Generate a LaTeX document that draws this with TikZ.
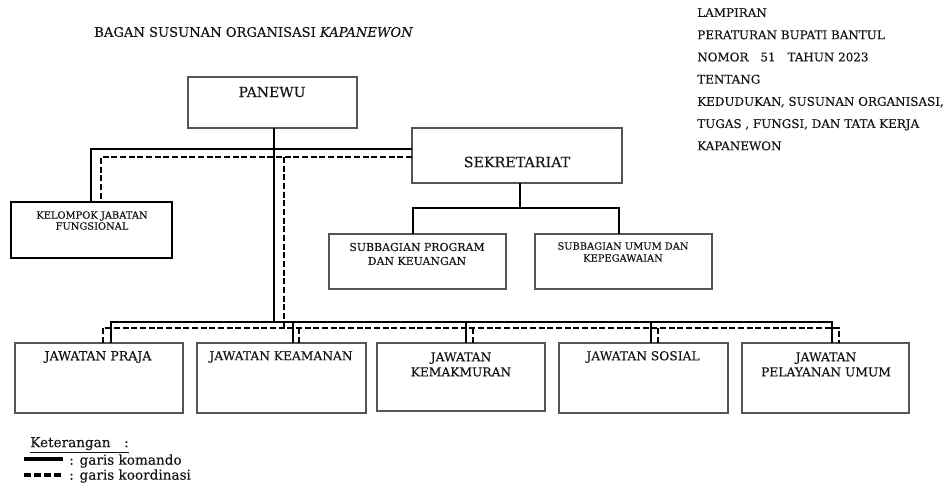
\documentclass[tikz,border=0pt]{standalone}
\usepackage{fontspec}
\setmainfont{DejaVu Serif}[FakeBold=0.3]
\definecolor{ink}{HTML}{151515}
\definecolor{boxline}{HTML}{555555}
\newcommand\mkbox[6][]{\node[box,#1,minimum width={(#4-#2)*0.75pt},minimum height={(#5-#3)*0.75pt}] (#6) at ({(#2+#4)/2},{(#3+#5)/2}) {};}
\tikzset{
  box/.style={draw=boxline,line width=0.8pt,inner sep=0pt,outer sep=0pt},
  thickbox/.style={draw=black,line width=1.4pt},
  cmd/.style={draw=black,line width=1.5pt},
  crd/.style={draw=black,line width=1.4pt,dash pattern=on 4.5pt off 2pt},
  lbl/.style={text=ink,inner sep=0pt,align=center},
}
\begin{document}
\begin{tikzpicture}[x=0.75pt,y=-0.75pt]
\useasboundingbox (0,0) rectangle (948,484);
% boxes
\mkbox{188}{77}{357}{128}{panewu}
\mkbox{412}{128}{622}{183}{sek}
\mkbox[thickbox]{11}{202}{172}{258}{kjf}
\mkbox{329}{234}{506}{289}{spk}
\mkbox{535}{234}{712}{289}{suk}
\mkbox{15}{343}{183}{413}{jp}
\mkbox{197}{343}{366}{413}{jk}
\mkbox{377}{343}{545}{411}{jkm}
\mkbox{559}{343}{728}{413}{js}
\mkbox{742}{343}{909}{413}{jpu}
% texts
\node[lbl,anchor=west,font=\fontsize{9.85}{11}\selectfont] (title) at (94,32) {BAGAN SUSUNAN ORGANISASI \textit{KAPANEWON}};
\node[lbl,anchor=north west,align=left,font=\fontsize{8.95}{16.65}\selectfont] (lamp) at (697,8) {LAMPIRAN\\PERATURAN BUPATI BANTUL\\NOMOR\quad 51\quad TAHUN 2023\\TENTANG\\KEDUDUKAN, SUSUNAN ORGANISASI,\\TUGAS , FUNGSI, DAN TATA KERJA\\KAPANEWON};
\node[lbl,font=\fontsize{10.5}{12}\selectfont] (panewuT) at (272,92) {PANEWU};
\node[lbl,font=\fontsize{10.7}{12}\selectfont] (sekT) at (517,162) {SEKRETARIAT};
\node[lbl,font=\fontsize{7.4}{8.25}\selectfont] (kjfT) at (92,220.5) {KELOMPOK JABATAN\\FUNGSIONAL};
\node[lbl,font=\fontsize{8.2}{10.5}\selectfont] (spkT) at (417,254) {SUBBAGIAN PROGRAM\\DAN KEUANGAN};
\node[lbl,font=\fontsize{7.4}{9}\selectfont] (sukT) at (623,252) {SUBBAGIAN UMUM DAN\\KEPEGAWAIAN};
\node[lbl,font=\fontsize{9.4}{11}\selectfont] (jpT) at (98,357) {JAWATAN PRAJA};
\node[lbl,font=\fontsize{9.2}{11}\selectfont] (jkT) at (281,357) {JAWATAN KEAMANAN};
\node[lbl,font=\fontsize{9.2}{11.25}\selectfont] (jkmT) at (461,364.5) {JAWATAN\\KEMAKMURAN};
\node[lbl,font=\fontsize{9.2}{11}\selectfont] (jsT) at (643,357) {JAWATAN SOSIAL};
\node[lbl,font=\fontsize{9.2}{11.25}\selectfont] (jpuT) at (826,364.5) {JAWATAN\\PELAYANAN UMUM};
% command lines
\coordinate (pv) at (274,322);
\draw[cmd] (pv |- panewu.south) -- (pv);
\coordinate (k1) at (91,149);
\draw[cmd] (k1 -| sek.west) -- (k1) -- (k1 |- kjf.north);
\coordinate (s1) at (111,322);
\coordinate (s2) at (293,322);
\coordinate (s3) at (466,322);
\coordinate (s4) at (651,322);
\coordinate (s5) at (832,322);
\draw[cmd] (s1 |- jp.north) -- (s1) -- (s5) -- (s5 |- jpu.north);
\draw[cmd] (s2) -- (s2 |- jk.north);
\draw[cmd] (s3) -- (s3 |- jkm.north);
\draw[cmd] (s4) -- (s4 |- js.north);
\coordinate (sb) at (520,208);
\coordinate (sl) at (413,208);
\coordinate (sr) at (619,208);
\draw[cmd] (sb |- sek.south) -- (sb);
\draw[cmd] (sl |- spk.north) -- (sl) -- (sr) -- (sr |- suk.north);
% coordination lines
\coordinate (d1) at (101,157);
\draw[crd] (d1 -| sek.west) -- (d1) -- (d1 |- kjf.north);
\coordinate (dv) at (284,157);
\coordinate (dv2) at (284,328);
\draw[crd] (dv) -- (dv2);
\coordinate (c1) at (103,328);
\coordinate (c2) at (299,328);
\coordinate (c3) at (473,328);
\coordinate (c4) at (658,328);
\coordinate (c5) at (839,328);
\draw[crd] (c1 |- jp.north) -- (c1) -- (c5) -- (c5 |- jpu.north);
\draw[crd] (c2) -- (c2 |- jk.north);
\draw[crd] (c3) -- (c3 |- jkm.north);
\draw[crd] (c4) -- (c4 |- js.north);
% legend
\node[lbl,anchor=west,font=\fontsize{10.2}{11}\selectfont] (ket) at (30,445) {\underline{Keterangan\quad:}};
\coordinate (l1a) at (24,459);
\coordinate (l1b) at (63,459);
\draw[cmd,line width=2.4pt] (l1a) -- (l1b);
\node[lbl,anchor=west,font=\fontsize{10.2}{11}\selectfont] (komT) at (69,461) {: garis komando};
\coordinate (l2a) at (24,475);
\coordinate (l2b) at (63,475);
\draw[crd,line width=2.4pt,dash pattern=on 5pt off 2.5pt] (l2a) -- (l2b);
\node[lbl,anchor=west,font=\fontsize{10.2}{11}\selectfont] (korT) at (69,476) {: garis koordinasi};
\end{tikzpicture}
\end{document}
